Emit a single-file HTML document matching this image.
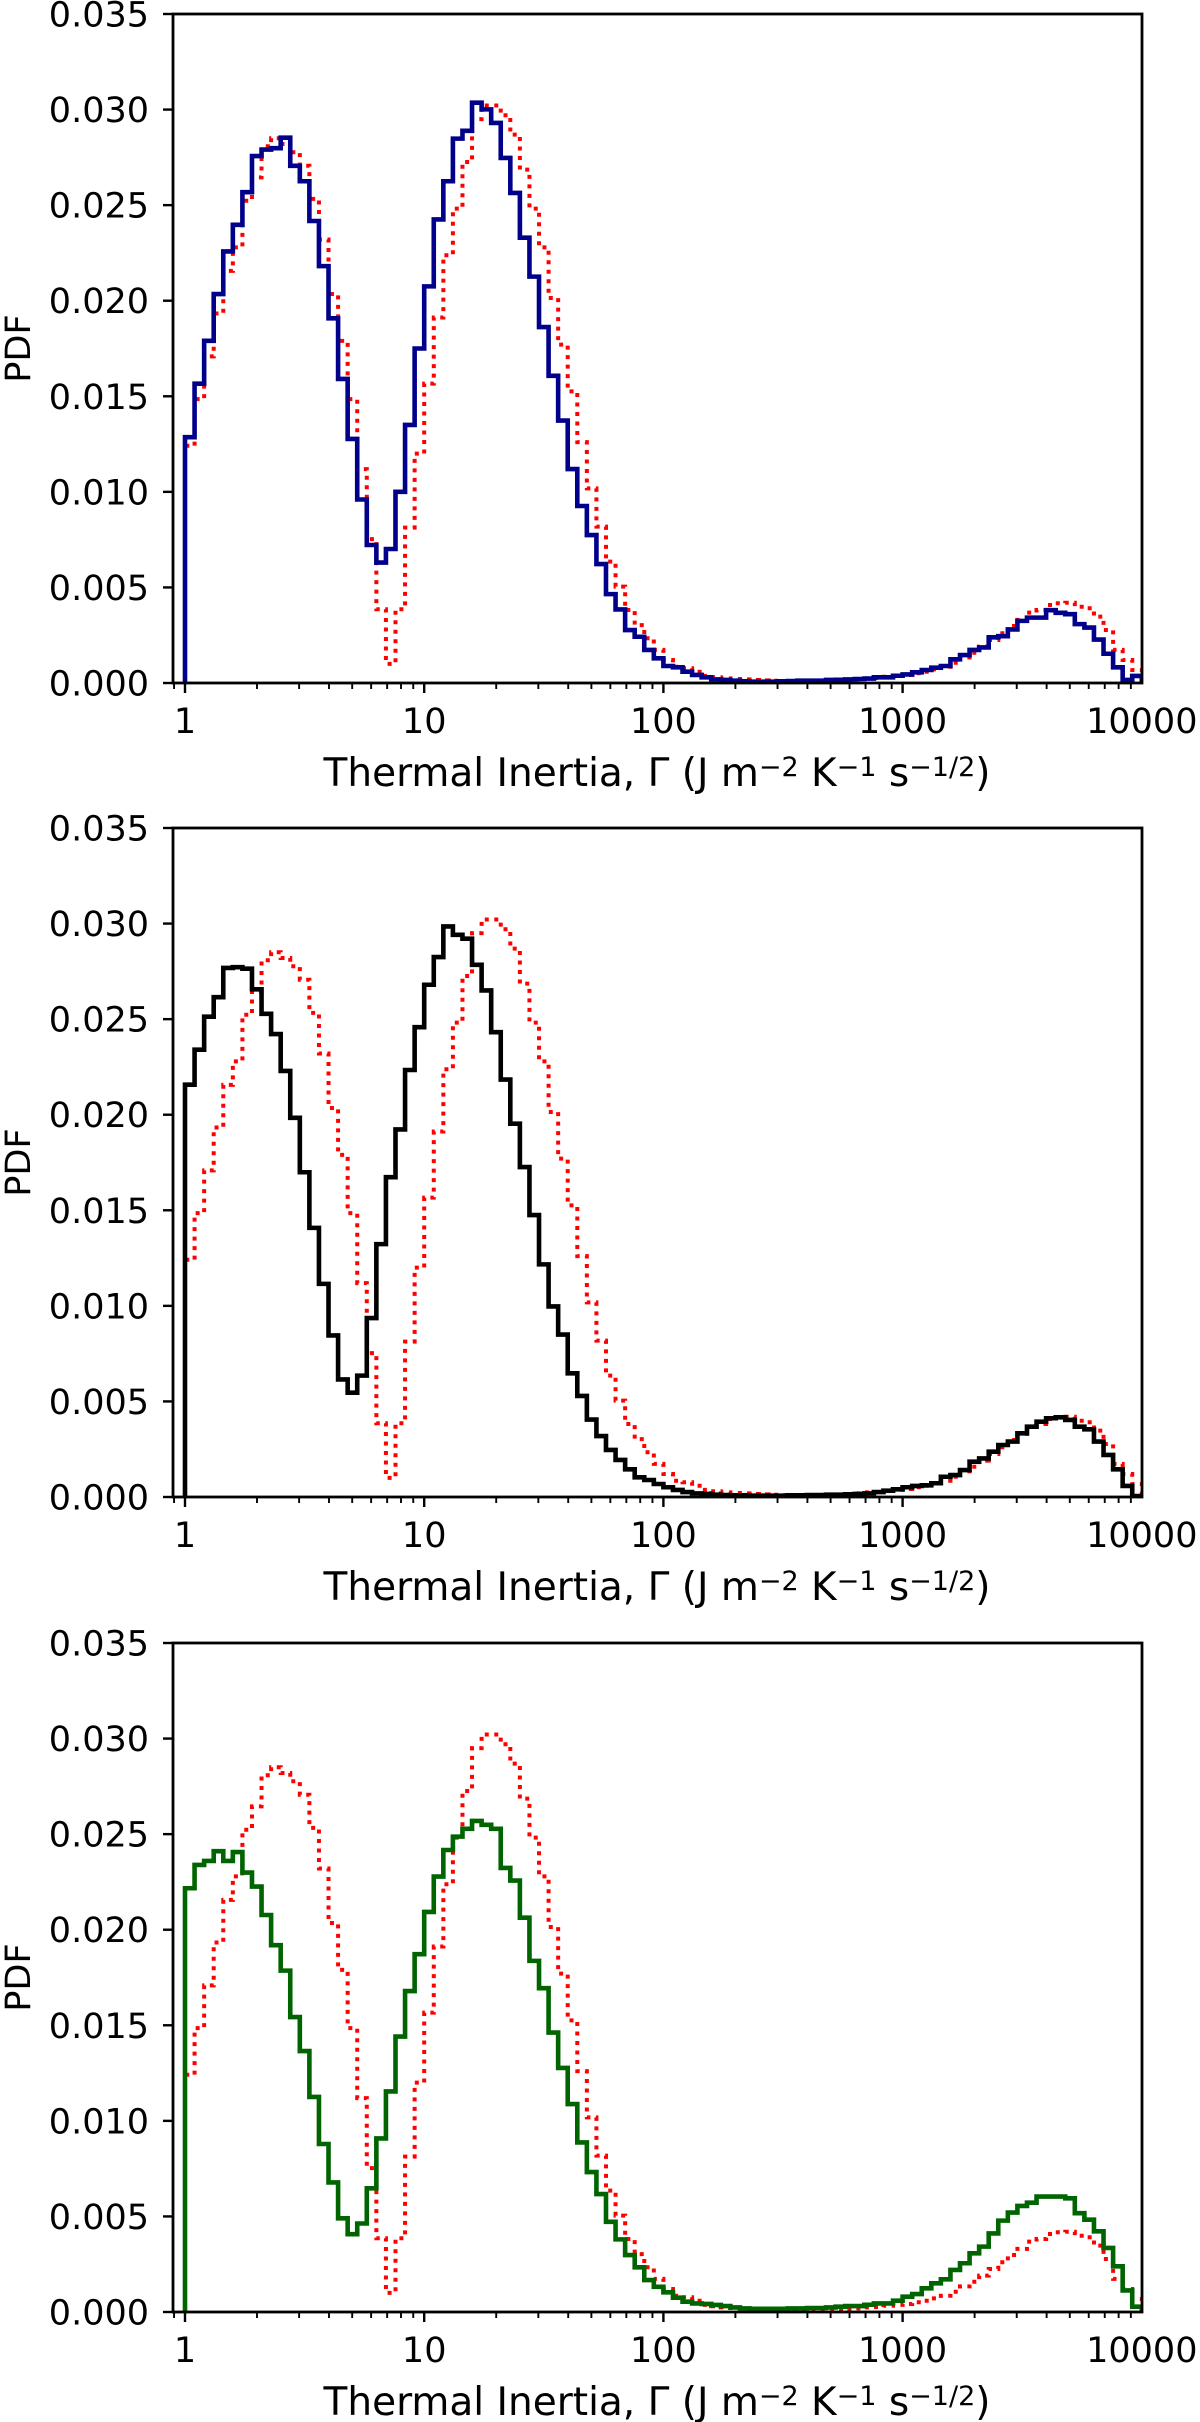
<!DOCTYPE html>
<html><head><meta charset="utf-8">
<style>
html,body{margin:0;padding:0;background:#fff;}
svg{display:block;font-family:"DejaVu Sans","Liberation Sans",sans-serif;}
</style></head>
<body>
<svg id="fig" width="1200" height="2422" viewBox="0 0 1200 2422" xmlns="http://www.w3.org/2000/svg"></svg>
<script>
// ---- data (PDF values in units of 1e-3), 100 log-spaced bins from 1 to 10000 ----
const binEdgesMin = 1;
const binEdgesMax = 10000;
const binCount = 100;
const yTickLabels = ["0.000","0.005","0.010","0.015","0.020","0.025","0.030","0.035"];
const yTickValues = [0,0.005,0.010,0.015,0.020,0.025,0.030,0.035];
const xTickLabels = ["1","10","100","1000","10000"];
const xTickValues = [1,10,100,1000,10000];
const referenceValues = [12.41,14.85,17.09,19.33,21.56,22.79,25.23,26.45,28.08,28.5,28.2,27.77,27.06,25.33,23.2,20.35,17.9,14.85,11.19,7.53,3.86,1.0,3.86,8.13,12.0,15.66,19.12,22.38,24.82,27.26,29.5,30.21,30.21,29.7,28.69,26.86,24.82,22.79,20.14,17.7,15.26,12.6,
10.18,8.18,6.35,5.04,3.82,3.03,2.34,1.73,1.20,0.85,0.77,0.59,0.37,0.30,0.24,0.21,0.19,0.16,0.14,0.12,0.10,0.10,0.09,
0.09,0.07,0.07,0.10,0.16,0.19,0.24,
0.26,0.33,0.37,0.42,0.51,0.59,0.71,0.85,1.06,1.34,1.58,1.90,2.25,2.60,2.98,3.30,3.68,3.82,4.08,4.17,4.20,3.99,3.91,3.47,2.77,1.73,1.20,0.68];
const blueValues = [12.86,15.66,17.90,20.35,22.58,23.97,25.68,27.57,27.91,27.98,28.53,27.06,26.25,24.17,21.81,19.08,15.91,12.77,9.60,7.22,6.30,7.01,10.0,13.5,17.5,20.75,24.25,26.25,28.48,28.89,30.36,30.01,29.30,27.47,25.64,23.30,21.26,18.62,16.07,13.73,11.19,9.26,
7.74,6.22,4.65,3.85,2.77,2.42,1.73,1.29,0.89,0.82,0.59,0.42,0.30,
0.19,0.16,0.12,0.09,0.07,0.07,0.07,0.09,0.10,0.12,
0.12,0.12,0.16,0.17,0.19,0.21,0.23,0.30,0.30,0.38,0.45,0.56,0.68,0.80,0.89,1.24,1.46,1.73,1.86,2.39,2.45,2.80,3.25,3.42,3.42,3.81,3.67,3.60,3.08,2.90,2.27,1.53,0.82,0.16,0.37];
const blackValues = [21.57,23.40,25.13,26.15,27.68,27.72,27.64,26.56,25.28,24.22,22.29,19.84,16.99,14.08,11.15,8.45,6.15,5.46,6.35,9.36,13.23,16.73,19.23,22.34,24.58,26.8,28.25,29.85,29.41,29.21,27.84,26.5,24.32,21.84,19.53,17.26,14.75,12.17,9.97,8.5,6.47,5.29,4.05,
3.19,2.46,1.94,1.45,1.03,0.89,0.68,0.51,0.37,0.26,0.19,
0.16,0.12,0.10,0.09,0.09,0.07,0.07,0.07,0.07,
0.09,0.09,0.10,0.10,0.12,0.12,0.14,0.16,
0.19,0.26,0.33,0.40,0.51,0.58,0.61,0.72,1.06,1.15,1.41,1.85,2.02,2.37,2.72,2.90,3.33,3.68,3.94,4.12,4.17,4.03,3.68,3.54,2.90,2.20,1.45,0.58,0.05];
const greenValues = [22.17,23.39,23.6,24.11,23.6,24.06,22.99,22.26,20.77,19.19,17.86,15.43,13.65,11.25,8.79,6.78,4.9,4.07,4.63,6.47,9.08,11.54,14.41,16.79,18.72,20.93,22.78,24.17,24.87,25.28,25.69,25.49,25.28,23.23,22.57,20.63,18.37,16.94,14.62,12.77,10.88,8.87,7.32,
6.17,4.72,3.80,2.98,2.34,1.67,1.32,1.03,0.75,0.54,0.45,0.42,0.37,0.31,0.24,
0.19,0.17,0.17,0.17,0.17,0.19,0.19,
0.21,0.21,0.24,0.28,0.31,0.31,0.38,0.45,0.45,0.59,0.80,0.94,1.24,1.50,1.71,2.20,2.55,3.07,3.42,4.11,4.78,5.20,5.55,5.72,6.04,6.04,6.04,5.95,5.17,4.83,4.22,3.35,2.39,1.13,0.28];
const valueUnit = 1e-3;

// ---- layout ----
const NS = "http://www.w3.org/2000/svg";
const svg = document.getElementById("fig");
const axLeft = 173, axRight = 1142;
const x1px = 185, decadePx = 239.2;
const panelTops = [14, 828, 1643];
const panelHeight = 669;
const yMax = 0.035;

function xScale(v){ return x1px + decadePx*Math.log10(v); }
function yScale(v, top){ return top + panelHeight - v/yMax*panelHeight; }
function mk(tag, attrs, parent){
  const e = document.createElementNS(NS, tag);
  for (const k in attrs) e.setAttribute(k, attrs[k]);
  (parent||svg).appendChild(e);
  return e;
}

const panels = [
  {name:"panel-1", series: blueValues, color:"#00008b", sname:"model-histogram-blue"},
  {name:"panel-2", series: blackValues, color:"#000000", sname:"model-histogram-black"},
  {name:"panel-3", series: greenValues, color:"#006400", sname:"model-histogram-green"}
];

function stepPath(vals, top){
  const lg0 = Math.log10(binEdgesMin), lg1 = Math.log10(binEdgesMax);
  const w = (lg1-lg0)/binCount;
  let d = "M" + xScale(binEdgesMin).toFixed(2) + "," + yScale(0, top).toFixed(2);
  for (let i=0;i<vals.length;i++){
    const xa = xScale(Math.pow(10, lg0+i*w)), xb = xScale(Math.pow(10, lg0+(i+1)*w));
    const y = yScale(vals[i]*valueUnit, top);
    d += " L" + xa.toFixed(2) + "," + y.toFixed(2) + " L" + xb.toFixed(2) + "," + y.toFixed(2);
  }
  d += " L" + xScale(binEdgesMax).toFixed(2) + "," + yScale(0, top).toFixed(2);
  return d;
}

panels.forEach((p, pi) => {
  const top = panelTops[pi], bottom = top + panelHeight;
  const g = mk("g", {});
  
  

  const clipId = "clip"+pi;
  const cp = mk("clipPath", {id: clipId}, g);
  mk("rect", {x: axLeft, y: top-4, width: axRight-axLeft, height: panelHeight+4}, cp);

  const ref = mk("path", {d: stepPath(referenceValues, top), fill:"none", stroke:"#ff0000", "stroke-width":4, "stroke-dasharray":"4 5.5", "clip-path":"url(#"+clipId+")"}, g);
  
  

  const s = mk("path", {d: stepPath(p.series, top), fill:"none", stroke:p.color, "stroke-width":4.6, "stroke-linejoin":"miter", "clip-path":"url(#"+clipId+")"}, g);
  
  

  const fr = mk("rect", {x: axLeft, y: top, width: axRight-axLeft, height: panelHeight, fill:"none", stroke:"#000", "stroke-width":2.8}, g);
  
  

  yTickValues.forEach((v, i) => {
    const y = yScale(v, top);
    const t = mk("line", {x1: axLeft-10, x2: axLeft, y1: y, y2: y, stroke:"#000", "stroke-width":2.4}, g);
    
    
    const lb = mk("text", {x: 149, y: y+12.5, "text-anchor":"end", "font-size":35, fill:"#000"}, g);
    lb.textContent = yTickLabels[i];
    
    
  });

  for (let e=-1; e<4; e++){
    for (let m=1; m<10; m++){
      const v = m*Math.pow(10, e);
      const x = xScale(v);
      if (x < axLeft-0.5 || x > axRight+0.5) continue;
      const major = (m===1);
      const t = mk("line", {x1:x, x2:x, y1:bottom, y2:bottom+(major?10:6), stroke:"#000", "stroke-width": major?2.4:1.9}, g);
      
      
    }
  }
  xTickValues.forEach((v, i) => {
    const lb = mk("text", {x: xScale(v), y: bottom+50, "text-anchor":"middle", "font-size":35, fill:"#000"}, g);
    lb.textContent = xTickLabels[i];
    
    
  });

  const xt = mk("text", {x: 657, y: bottom+103, "text-anchor":"middle", "font-size":39, fill:"#000"}, g);
  
  
  const parts = [["Thermal Inertia, Γ (J m",0],["−2",1],[" K",0],["−1",1],[" s",0],["−1/2",1],[")",0]];
  parts.forEach(pt => {
    const ts = mk("tspan", pt[1] ? {"baseline-shift":"38%","font-size":27} : {}, xt);
    ts.textContent = pt[0];
  });

  const cy = top + panelHeight/2;
  const yt = mk("text", {x: 30, y: cy, "text-anchor":"middle", "font-size":35, fill:"#000", transform:"rotate(-90 30 "+cy+")"}, g);
  yt.textContent = "PDF";
  
  
});
</script>
</body></html>
